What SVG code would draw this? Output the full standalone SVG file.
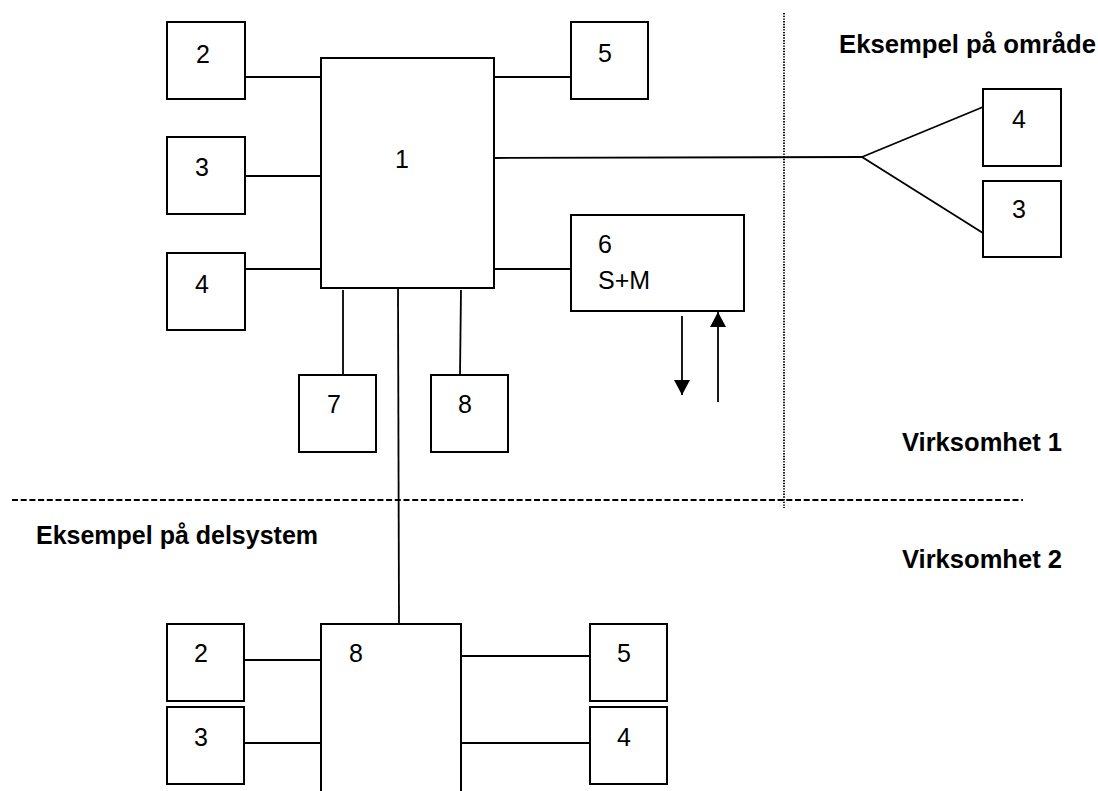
<svg xmlns="http://www.w3.org/2000/svg" width="1098" height="791" viewBox="0 0 1098 791">
<style>
.box{fill:#fff;stroke:#000;stroke-width:2}
.ln{fill:none;stroke:#000;stroke-width:1.8}
.t{font-family:"Liberation Sans",Arial,sans-serif;font-size:25px;fill:#000}
.c{text-anchor:middle}
.b{font-weight:bold}
</style>
<defs>
<marker id="ah" markerUnits="userSpaceOnUse" markerWidth="16" markerHeight="16" viewBox="0 0 16 16" refX="15" refY="8" orient="auto">
<path d="M0,0 L15,8 L0,16 Z" fill="#000"/>
</marker>
</defs>
<rect width="1098" height="791" fill="#fff"/>
<g id="separators">
<line x1="784" y1="13" x2="784" y2="508" stroke="#000" stroke-width="1.8" stroke-dasharray="1.4 1.3"/>
<line x1="12" y1="500" x2="1023" y2="500" stroke="#000" stroke-width="2" stroke-dasharray="6 2.7"/>
</g>
<g id="connectors">
<line class="ln" x1="245" y1="77" x2="321" y2="77"/>
<line class="ln" x1="245" y1="176" x2="321" y2="176"/>
<line class="ln" x1="245" y1="269" x2="321" y2="269"/>
<line class="ln" x1="494" y1="77" x2="571" y2="77"/>
<line class="ln" x1="494" y1="158" x2="862" y2="157"/>
<line class="ln" x1="862" y1="157" x2="983" y2="107"/>
<line class="ln" x1="862" y1="157" x2="983" y2="233"/>
<line class="ln" x1="494" y1="269" x2="571" y2="269"/>
<line class="ln" x1="343" y1="290" x2="343" y2="375"/>
<line class="ln" x1="461" y1="290" x2="460" y2="375"/>
<line class="ln" x1="398" y1="288" x2="399" y2="624"/>
<line class="ln" x1="682" y1="316" x2="682" y2="395" marker-end="url(#ah)"/>
<line class="ln" x1="718" y1="402" x2="718" y2="312" marker-end="url(#ah)"/>
<line class="ln" x1="245" y1="660" x2="321" y2="660"/>
<line class="ln" x1="245" y1="743" x2="321" y2="743"/>
<line class="ln" x1="461" y1="656" x2="590" y2="656"/>
<line class="ln" x1="461" y1="743" x2="590" y2="743"/>
</g>
<g id="n1"><rect class="box" x="321" y="58" width="173" height="230"/><text class="t c" x="402" y="168">1</text></g>
<g id="n2"><rect class="box" x="167" y="22" width="78" height="77"/><text class="t c" x="203" y="63">2</text></g>
<g id="n3"><rect class="box" x="167" y="137" width="78" height="77"/><text class="t c" x="202" y="176">3</text></g>
<g id="n4"><rect class="box" x="167" y="253" width="78" height="77"/><text class="t c" x="202" y="293">4</text></g>
<g id="n5"><rect class="box" x="571" y="22" width="77" height="77"/><text class="t c" x="605" y="62">5</text></g>
<g id="n6"><rect class="box" x="571" y="215" width="173" height="96"/><text class="t" x="598" y="253">6</text><text class="t" x="598" y="289">S+M</text></g>
<g id="n7"><rect class="box" x="299" y="375" width="77" height="77"/><text class="t c" x="334" y="413">7</text></g>
<g id="n8"><rect class="box" x="431" y="375" width="77" height="77"/><text class="t c" x="465" y="413">8</text></g>
<g id="r4"><rect class="box" x="983" y="89" width="78" height="77"/><text class="t c" x="1019" y="128">4</text></g>
<g id="r3"><rect class="box" x="983" y="181" width="78" height="76"/><text class="t c" x="1019" y="218">3</text></g>
<g id="b8"><rect class="box" x="321" y="624" width="140" height="190"/><text class="t c" x="356" y="662">8</text></g>
<g id="b2"><rect class="box" x="167" y="624" width="77" height="77"/><text class="t c" x="201" y="662">2</text></g>
<g id="b3"><rect class="box" x="167" y="707" width="77" height="77"/><text class="t c" x="201" y="746">3</text></g>
<g id="b5"><rect class="box" x="590" y="624" width="77" height="77"/><text class="t c" x="624" y="662">5</text></g>
<g id="b4"><rect class="box" x="590" y="707" width="77" height="77"/><text class="t c" x="624" y="746">4</text></g>
<g id="labels">
<text class="t b" x="839" y="53" textLength="257" lengthAdjust="spacingAndGlyphs">Eksempel på område</text>
<text class="t b" x="902" y="451" textLength="160" lengthAdjust="spacingAndGlyphs">Virksomhet 1</text>
<text class="t b" x="902" y="568" textLength="160" lengthAdjust="spacingAndGlyphs">Virksomhet 2</text>
<text class="t b" x="36" y="544" textLength="282" lengthAdjust="spacingAndGlyphs">Eksempel på delsystem</text>
</g>
</svg>
